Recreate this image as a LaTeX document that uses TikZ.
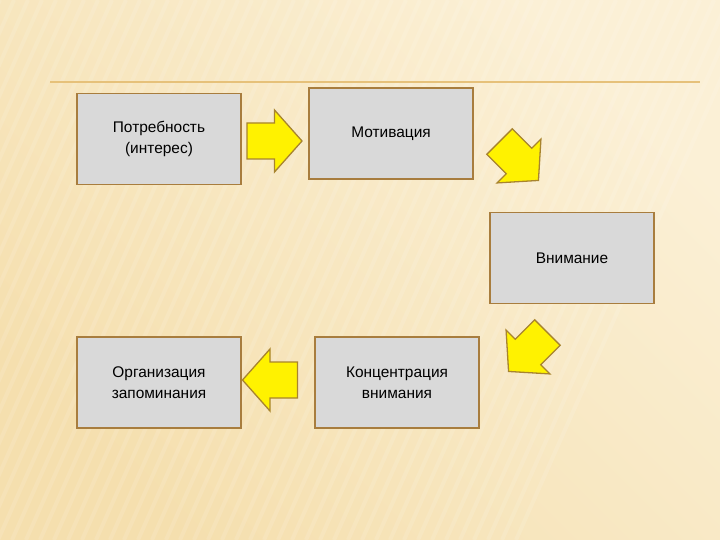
\documentclass[tikz,border=0pt]{standalone}
\usepackage{fontspec}
\setmainfont{Liberation Sans}
\definecolor{bgA}{HTML}{F5DFAE}
\definecolor{bgB}{HTML}{FBF0D6}
\definecolor{boxfill}{HTML}{D9D9D9}
\definecolor{boxline}{HTML}{A87D3E}
\definecolor{arrline}{HTML}{A8842E}
\definecolor{rule}{HTML}{E6C17A}
\newcommand\yarrow[2]{%
  \begin{scope}[shift={#1},x=1bp,y=1bp,rotate=#2]
    \draw[arrowst] (-27.5,-18) -- (0,-18) -- (0,-31) -- (27.5,0) -- (0,31) -- (0,18) -- (-27.5,18) -- cycle;
  \end{scope}}
\tikzset{
  box/.style={draw=boxline,line width=1.8pt,fill=boxfill,minimum width=164bp,minimum height=91bp,inner sep=0pt,align=center,font=\fontsize{15.5}{21}\selectfont},
  arrowst/.style={draw=arrline,line width=1.3pt,fill=yellow,line join=miter}
}
\begin{document}
\begin{tikzpicture}[x=1bp,y=-1bp]
\useasboundingbox (0,0) rectangle (720,540);
\shade[left color=bgA,right color=bgB,shading angle=135] (0,0) rectangle (720,540);
\foreach \i in {0,14,...,760}{\draw[white,opacity=0.12,line width=4bp] (\i,0) -- (\i-240,540);}
\draw[rule,line width=1.2pt] (50,82) -- (700,82);
\node[box] (b1) at (159,139) {Потребность\\(интерес)};
\node[box] (b2) at (391,133.5) {Мотивация};
\node[box] (b3) at (572,258) {Внимание};
\node[box] (b4) at (159,382.5) {Организация\\запоминания};
\node[box] (b5) at (397,382.5) {Концентрация\\внимания};
\yarrow{(274.5,141)}{0}
\yarrow{(519,161)}{-45}
\yarrow{(528,352)}{-135}
\yarrow{(270,380)}{180}
\end{tikzpicture}
\end{document}
